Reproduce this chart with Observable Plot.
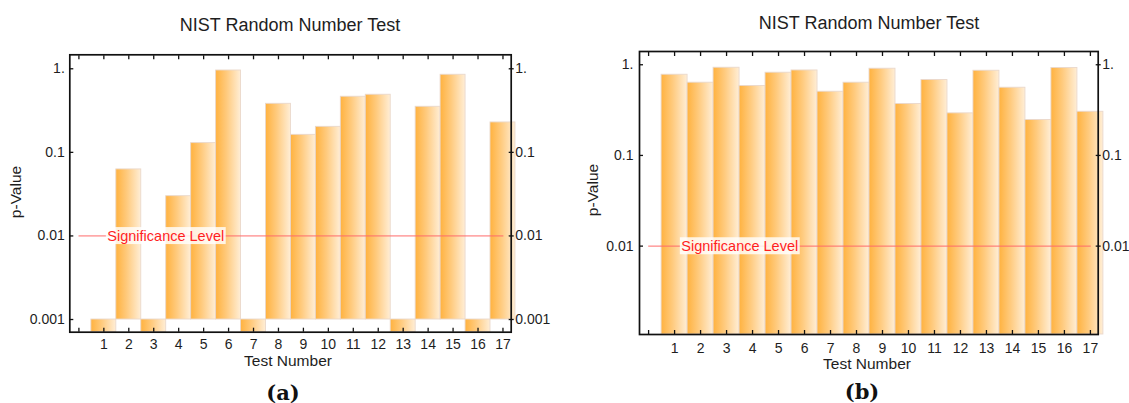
<!DOCTYPE html>
<html><head><meta charset="utf-8">
<script src="https://cdn.jsdelivr.net/npm/d3@7"></script>
<script src="https://cdn.jsdelivr.net/npm/@observablehq/plot@0.6"></script>
<style>
body{margin:0;background:#fff;}
#wrap{position:relative;width:1129px;height:403px;overflow:hidden;font-family:"Liberation Sans",Arial,sans-serif;color:#1e1e1e;}
.lbl{position:absolute;transform:translate(-50%,-50%);white-space:nowrap;line-height:1;}
.title{font-size:18px;}
.axl{font-size:15.5px;}
.rot{transform:translate(-50%,-50%) rotate(-90deg);}
.cap{font-family:"DejaVu Serif","Liberation Serif",serif;font-weight:bold;font-size:21px;color:#111;}
.panel{position:absolute;top:0;}
</style></head><body><div id="wrap"></div>
<script>
// ---- data ----
const testNumbers = [1,2,3,4,5,6,7,8,9,10,11,12,13,14,15,16,17];
const xTickPositions = [0,1,2,3,4,5,6,7,8,9,10,11,12,13,14,15,16,17];
// panel (a): 0 = p-value below 0.001 (drawn downward from the 0.001 baseline)
const pValuesA = [0, 0.0625, 0, 0.0299, 0.129, 0.954, 0, 0.381, 0.162, 0.202, 0.463, 0.489, 0, 0.351, 0.848, 0, 0.228];
const pValuesB = [0.776, 0.634, 0.927, 0.583, 0.817, 0.865, 0.504, 0.634, 0.904, 0.369, 0.678, 0.291, 0.859, 0.558, 0.246, 0.92, 0.303];
const yTicksA = [1, 0.1, 0.01, 0.001];
const yTickLabelsA = ["1.", "0.1", "0.01", "0.001"];
const yTicksB = [1, 0.1, 0.01];
const yTickLabelsB = ["1.", "0.1", "0.01"];
const baselineA = 0.001;
const significanceLevel = 0.01;
const significanceLabel = "Significance Level";
const sigLineRange = [0, 17];
const sigLabelPosA = 1.14, sigLabelPosB = 1.26;
const titleText = "NIST Random Number Test";
const xLabelText = "Test Number";
const yLabelText = "p-Value";
const captions = ["(a)", "(b)"];

const wrap = document.getElementById("wrap");
const NS = "http://www.w3.org/2000/svg";

function gradientDefs(id) {
  return () => {
    const defs = document.createElementNS(NS, "defs");
    const g = document.createElementNS(NS, "linearGradient");
    g.setAttribute("id", id);
    g.setAttribute("x1", "0"); g.setAttribute("x2", "1");
    g.setAttribute("y1", "0"); g.setAttribute("y2", "0");
    [["0", "#FFB23F"], ["0.45", "#FFCB7F"], ["1", "#FFEED6"]].forEach(([o, c]) => {
      const s = document.createElementNS(NS, "stop");
      s.setAttribute("offset", o); s.setAttribute("stop-color", c);
      g.appendChild(s);
    });
    defs.appendChild(g);
    return defs;
  };
}

function addLabel(cls, text, x, y) {
  const d = document.createElement("div");
  d.className = "lbl " + cls;
  d.textContent = text;
  d.style.left = x + "px"; d.style.top = y + "px";
  wrap.appendChild(d);
}

function makePanel(cfg) {
  const rows = testNumbers.map((t, i) => ({test: t, p: cfg.values[i]}));
  const yMin = cfg.yDomain[0];
  const fmt = d => cfg.yTickLabels[cfg.yTicks.indexOf(d)];
  const sigRows = [{x: sigLineRange[0], y: significanceLevel}, {x: sigLineRange[1], y: significanceLevel}];
  const svg = Plot.plot({
    width: cfg.width, height: 375,
    marginLeft: cfg.ml, marginRight: cfg.mr, marginTop: cfg.mt, marginBottom: cfg.mb,
    style: {fontFamily: "Liberation Sans, Arial, sans-serif", fontSize: "14px", color: "#1e1e1e", background: "transparent"},
    x: {type: "linear", domain: cfg.xDomain},
    y: {type: "log", domain: cfg.yDomain},
    marks: [
      gradientDefs(cfg.gradId),
      Plot.rect(rows, {
        x1: d => d.test - 0.5, x2: d => d.test + 0.5,
        y1: cfg.baseline,
        y2: d => Math.max(d.p, yMin),
        fill: `url(#${cfg.gradId})`, stroke: "#ead8cb", strokeWidth: 0.9
      }),
      Plot.line(sigRows, {x: "x", y: "y", stroke: "#ff6a6a", strokeWidth: 1}),
      Plot.text([significanceLabel], {x: cfg.sigLabelPos, y: significanceLevel, text: d => d, textAnchor: "start", fill: "#ff1f1f", fontSize: 14.5}),
      Plot.frame({stroke: "#111", strokeWidth: 1.7}),
      // inward ticks
      Plot.axisY({anchor: "left", ticks: cfg.yTicks, tickSize: -4, fill: "none", label: null, stroke: "#111", strokeWidth: 1.3}),
      Plot.axisY({anchor: "right", ticks: cfg.yTicks, tickSize: -3, fill: "none", label: null, stroke: "#111", strokeWidth: 1.3}),
      Plot.axisY({anchor: "right", ticks: cfg.yTicks, tickSize: 2, fill: "none", label: null, stroke: "#111", strokeWidth: 1.3}),
      Plot.axisX({anchor: "top", ticks: xTickPositions, tickSize: -4, fill: "none", label: null, stroke: "#111", strokeWidth: 1.3}),
      Plot.axisX({anchor: "bottom", ticks: xTickPositions, tickSize: -4, fill: "none", label: null, stroke: "#111", strokeWidth: 1.3}),
      // labels
      Plot.axisY({anchor: "left", ticks: cfg.yTicks, tickSize: 0, tickPadding: cfg.padL, tickFormat: fmt, label: null, fontSize: 14}),
      Plot.axisY({anchor: "right", ticks: cfg.yTicks, tickSize: 0, tickPadding: 4, tickFormat: fmt, label: null, fontSize: 14}),
      Plot.axisX({anchor: "bottom", ticks: testNumbers, tickSize: 0, tickPadding: cfg.padB, tickFormat: d => String(d), label: null, fontSize: 14})
    ]
  });
  svg.classList.add("panel");
  svg.style.left = cfg.left + "px";
  svg.style.position = "absolute";
  svg.style.top = "0px";
  wrap.appendChild(svg);
  // semi-transparent background box behind the significance label
  const g = svg.querySelector('g[aria-label="text"]');
  if (g) {
    const bb = g.getBBox();
    const r = document.createElementNS(NS, "rect");
    r.setAttribute("x", bb.x - 1.5); r.setAttribute("y", bb.y - 0.5);
    r.setAttribute("width", bb.width + 3); r.setAttribute("height", bb.height + 1);
    r.setAttribute("fill", "#ffffff"); r.setAttribute("fill-opacity", "0.82");
    r.setAttribute("stroke", "none");
    g.insertBefore(r, g.firstChild);
  }
}

makePanel({
  left: 0, width: 560, ml: 69.3, mr: 49.3, mt: 54.3, mb: 43.3,
  xDomain: [-0.365, 17.33], yDomain: [0.000705, 1.47],
  values: pValuesA, baseline: baselineA, yTicks: yTicksA, yTickLabels: yTickLabelsA,
  gradId: "gradA", sigLabelPos: sigLabelPosA, padL: 5, padB: 7
});
makePanel({
  left: 560, width: 569, ml: 79, mr: 31.3, mt: 51, mb: 41,
  xDomain: [-0.35, 17.3], yDomain: [0.00106, 1.40],
  values: pValuesB, baseline: 0.00106, yTicks: yTicksB, yTickLabels: yTickLabelsB,
  gradId: "gradB", sigLabelPos: sigLabelPosB, padL: 6, padB: 9
});

addLabel("title", titleText, 290, 25);
addLabel("title", titleText, 869, 23);
addLabel("axl", xLabelText, 288, 360.5);
addLabel("axl", xLabelText, 867, 363.5);
addLabel("axl rot", yLabelText, 16, 192);
addLabel("axl rot", yLabelText, 593, 190);
addLabel("cap", captions[0], 283, 392);
addLabel("cap", captions[1], 862, 391);
</script></body></html>
